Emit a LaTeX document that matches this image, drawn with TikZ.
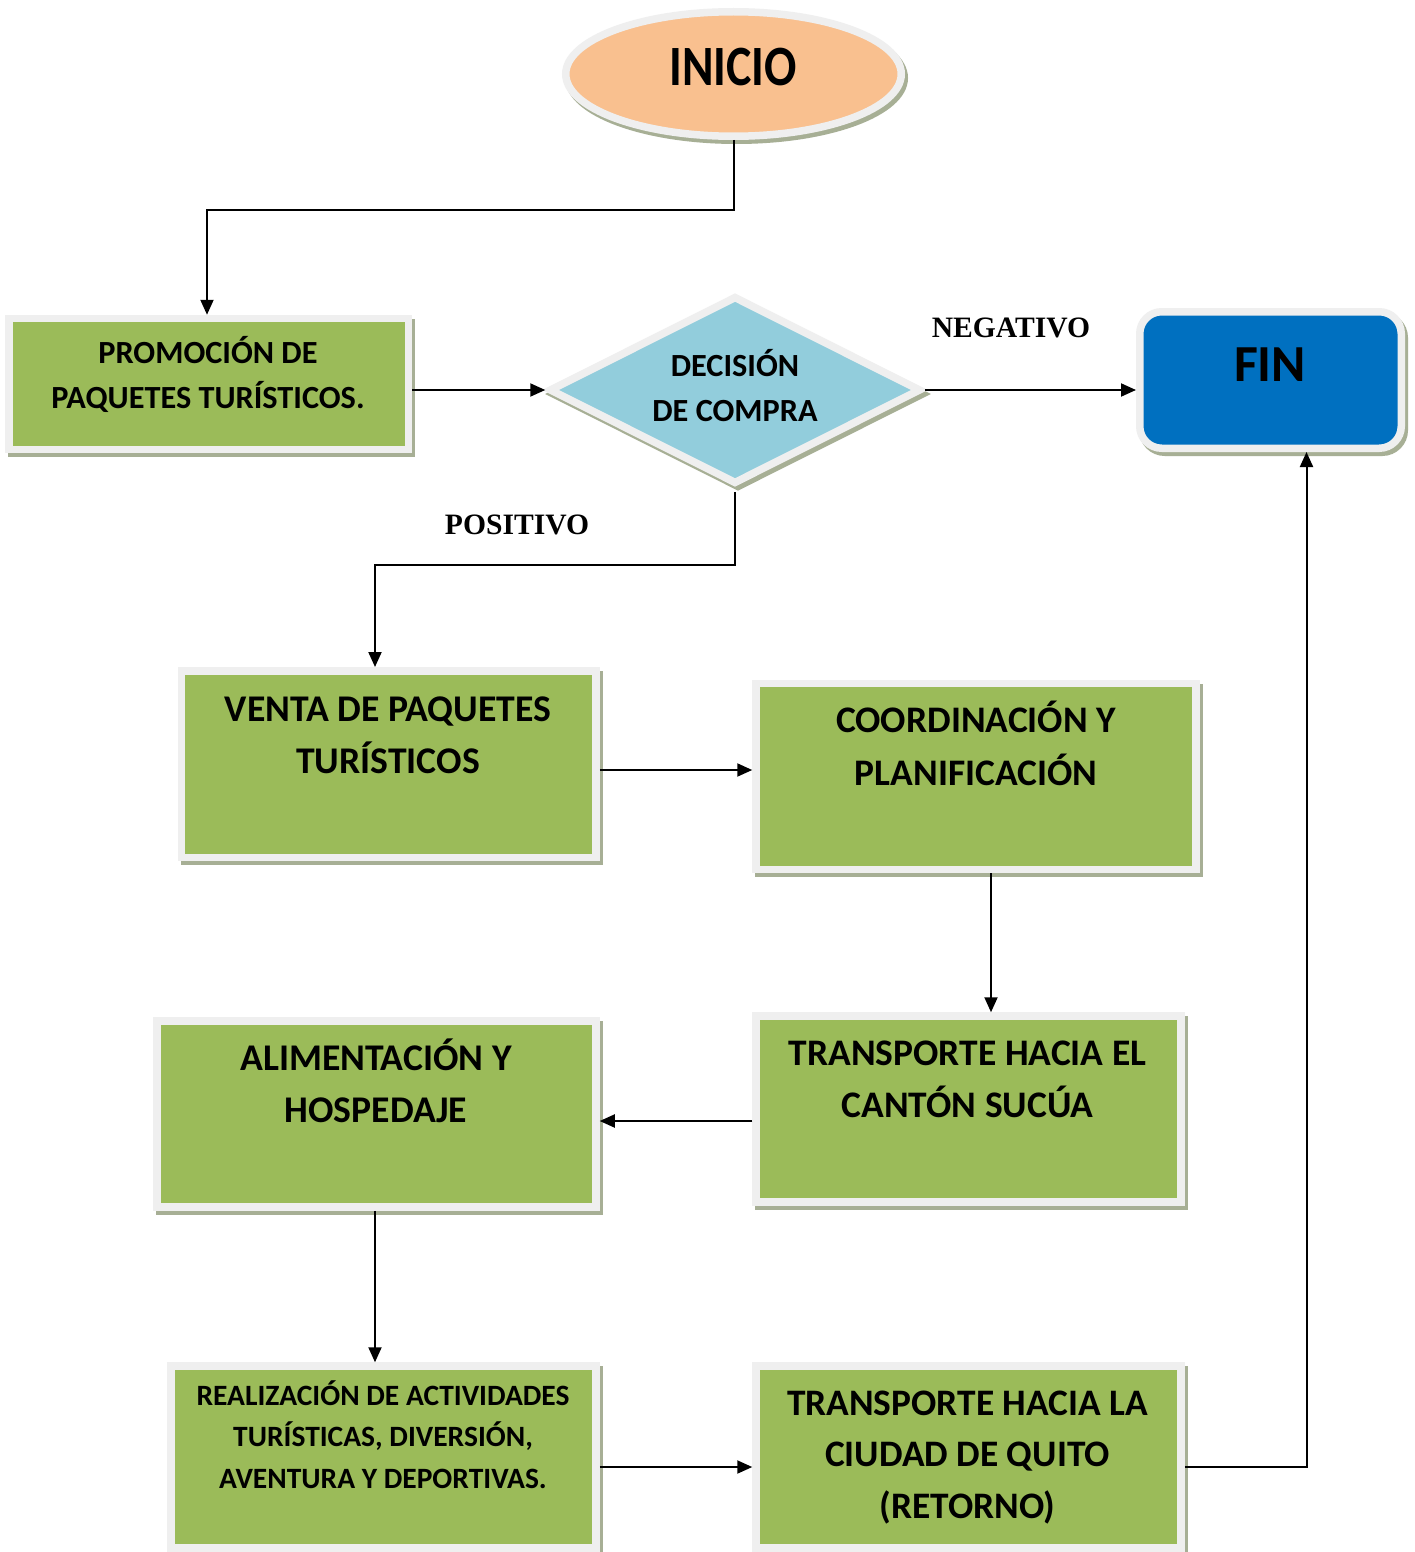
\documentclass[tikz,border=0pt]{standalone}
\usepackage{fontspec}
\setmainfont{Carlito}
\newfontfamily\lblfont{Liberation Serif}
\usetikzlibrary{shapes.geometric,arrows.meta,calc}
\definecolor{boxgreen}{HTML}{9BBB59}
\definecolor{edgec}{HTML}{EFEFEF}
\definecolor{shadowc}{HTML}{A7AF95}
\definecolor{orangec}{HTML}{F9C08F}
\definecolor{aquac}{HTML}{92CDDC}
\definecolor{bluec}{HTML}{0070C0}
\tikzset{
  shd/.style={preaction={draw=shadowc, fill=shadowc, line width=7.5pt, transform canvas={xshift=3pt,yshift=-4pt}}},
  shapebase/.style={draw=edgec, line width=7.5pt, inner sep=0pt, shd},
  gbox/.style={shapebase, rectangle, fill=boxgreen},
  tx/.style 2 args={font=\bfseries\fontsize{#1}{#2}\selectfont, align=center, inner sep=0pt, text depth=0pt},
  lbl/.style={font=\lblfont\bfseries\fontsize{29.6}{30}\selectfont, inner sep=0pt, text height=19pt, text depth=0pt},
  arr/.style={line width=2pt, -{Triangle[length=15pt,width=13pt]}},
}
\begin{document}
\begin{tikzpicture}[x=1pt,y=-1pt]
\useasboundingbox (0,0) rectangle (1415,1552);
\fill[white] (0,0) rectangle (1415,1552);

% shapes
\node[shapebase, ellipse, fill=orangec, minimum width=335.5pt, minimum height=124.5pt] (inicio) at (733.5,74) {};
\node[gbox, minimum width=399.5pt, minimum height=131pt] (promo) at (208.75,384) {};
\node[shapebase, diamond, fill=aquac, minimum width=372pt, minimum height=188pt] (dec) at (735,390) {};
\node[shapebase, rectangle, rounded corners=22pt, fill=bluec, minimum width=261.5pt, minimum height=136.5pt] (fin) at (1270.5,380) {};
\node[gbox, minimum width=414.5pt, minimum height=186.5pt] (venta) at (388.75,764) {};
\node[gbox, minimum width=440pt, minimum height=186pt] (coord) at (976,776.5) {};
\node[gbox, minimum width=425pt, minimum height=186pt] (trans1) at (968.5,1109) {};
\node[gbox, minimum width=439pt, minimum height=186pt] (alim) at (376.5,1114) {};
\node[gbox, minimum width=425pt, minimum height=182pt] (real) at (383.5,1457) {};
\node[gbox, minimum width=425pt, minimum height=182pt] (trans2) at (968.5,1457) {};

% texts
\node[tx={57}{60}, text height=36pt] (inicio-t) at (733,68) {\scalebox{0.84}[1]{INICIO}};
\node[tx={32.3}{45}, text height=65pt] (promo-t) at (208,375.5) {PROMOCIÓN DE\\PAQUETES TURÍSTICOS.};
\node[tx={32.3}{45}, text height=65pt] (dec-t) at (735,388.5) {DECISIÓN\\DE COMPRA};
\node[tx={52}{55}, text height=33pt] (fin-t) at (1270,365) {FIN};
\node[tx={37.7}{52.5}, text height=75.5pt] (venta-t) at (388,735.75) {VENTA DE PAQUETES\\TURÍSTICOS};
\node[tx={37.5}{53}, text height=76pt] (coord-t) at (976,747.5) {COORDINACIÓN Y\\PLANIFICACIÓN};
\node[tx={37.5}{52.5}, text height=75.5pt] (trans1-t) at (967.5,1080) {TRANSPORTE HACIA EL\\CANTÓN SUCÚA};
\node[tx={37.7}{52}, text height=75pt] (alim-t) at (376,1084.5) {ALIMENTACIÓN Y\\HOSPEDAJE};
\node[tx={29.5}{41.5}, text height=101pt] (real-t) at (383,1437.5) {REALIZACIÓN DE ACTIVIDADES\\TURÍSTICAS, DIVERSIÓN,\\AVENTURA Y DEPORTIVAS.};
\node[tx={37.4}{51.5}, text height=126pt] (trans2-t) at (967.5,1455) {TRANSPORTE HACIA LA\\CIUDAD DE QUITO\\(RETORNO)};
\node[lbl] (neg) at (1011,328) {NEGATIVO};
\node[lbl] (pos) at (517,525) {POSITIVO};

% connectors
\draw[arr] (inicio.south) -- ++(0,70) -| ([xshift=-1.75pt]promo.north);
\draw[arr] (promo.east |- dec.west) -- (dec.west);
\draw[arr] (dec.east) -- (dec.east -| fin.west);
\draw[arr] ([yshift=-4pt]dec.south) -- ++(0,73) -| ([xshift=-13.75pt]venta.north);
\draw[arr] ([yshift=-6pt]venta.east) coordinate (c5) -- (c5 -| coord.west);
\draw[arr] ([xshift=15pt]coord.south) coordinate (c6) -- (c6 |- trans1.north);
\draw[arr] ([yshift=-12pt]trans1.west) coordinate (c7) -- (c7 -| alim.east);
\draw[arr] ([xshift=-1.5pt]alim.south) coordinate (c8) -- (c8 |- real.north);
\draw[arr] ([yshift=-10pt]real.east) coordinate (c9) -- (c9 -| trans2.west);
\draw[arr] ([yshift=-10pt]trans2.east) -| ([xshift=36pt]fin.south);
\end{tikzpicture}
\end{document}
